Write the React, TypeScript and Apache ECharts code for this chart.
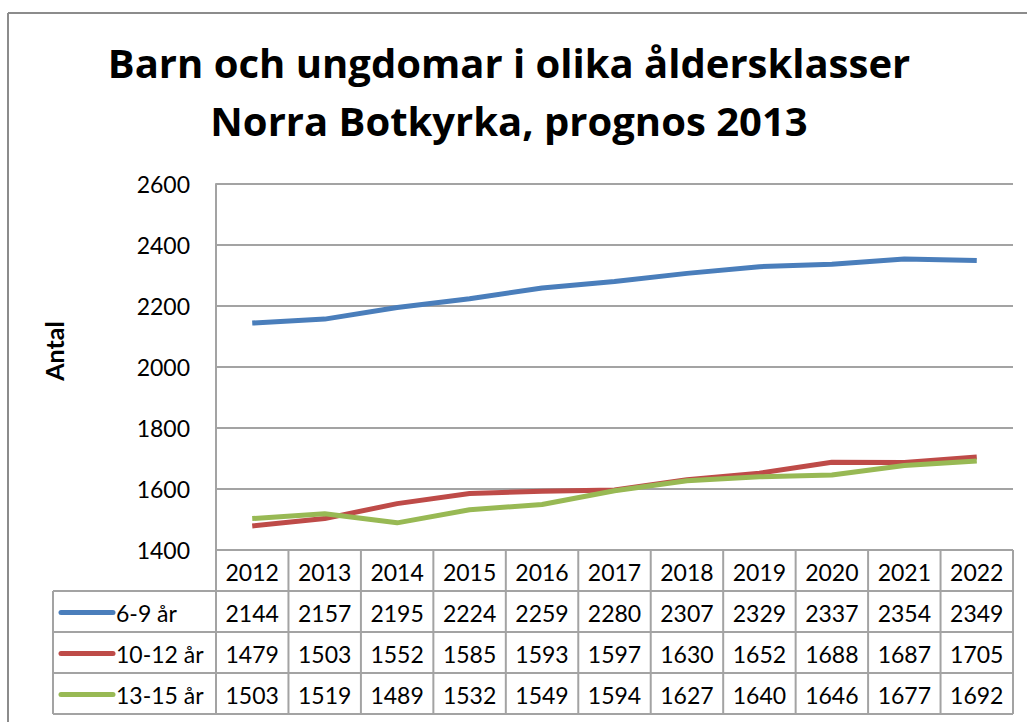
import React, { useEffect, useRef } from "react";
import * as echarts from "echarts";

const titleLines = ["Barn och ungdomar i olika åldersklasser", "Norra Botkyrka, prognos 2013"];
const yAxisTitle = "Antal";
const years = ["2012", "2013", "2014", "2015", "2016", "2017", "2018", "2019", "2020", "2021", "2022"];
const seriesNames = ["6-9 år", "10-12 år", "13-15 år"];
const age6to9 = [2144, 2157, 2195, 2224, 2259, 2280, 2307, 2329, 2337, 2354, 2349];
const age10to12 = [1479, 1503, 1552, 1585, 1593, 1597, 1630, 1652, 1688, 1687, 1705];
const age13to15 = [1503, 1519, 1489, 1532, 1549, 1594, 1627, 1640, 1646, 1677, 1692];
const yMin = 1400;
const yMax = 2600;
const yStep = 200;

const seriesValues = [age6to9, age10to12, age13to15];
const colors = ["#4A7EBB", "#BE4B48", "#98B954"];

const W = 1027;
const H = 722;
const gridLeft = 216;
const gridRight = 1013;
const gridTop = 184;
const gridBottom = 550;
const rowH = 41;
const legendLeft = 53;
const tableColor = "#A3A3A3";
const font = "Lato";

export default function App() {
  const ref = useRef<HTMLDivElement>(null);
  useEffect(() => {
    if (!ref.current) return;
    const chart = echarts.init(ref.current, null, { renderer: "svg" });
    const colW = (gridRight - gridLeft) / years.length;
    const graphics: any[] = [];
    // outer border
    graphics.push({ type: "line", shape: { x1: 8, y1: 13, x2: W, y2: 13 }, style: { stroke: "#8C8C8C", lineWidth: 2 } });
    graphics.push({ type: "line", shape: { x1: 8, y1: 13, x2: 8, y2: H }, style: { stroke: "#8C8C8C", lineWidth: 2 } });
    // title
    titleLines.forEach((t, i) => {
      graphics.push({
        type: "text",
        style: { text: t, x: 509, y: 62 + i * 58, align: "center", verticalAlign: "middle", fontSize: 40, fontWeight: "bold", fontFamily: "Open Sans", fill: "#000" },
      });
    });
    // axis title
    graphics.push({
      type: "text",
      x: 54,
      y: 351,
      rotation: Math.PI / 2,
      style: { text: yAxisTitle, x: 0, y: 0, align: "center", verticalAlign: "middle", fontSize: 25, fontWeight: "bold", fontFamily: font, fill: "#000" },
    });
    // table lines
    const tableBottom = gridBottom + rowH * (seriesNames.length + 1);
    graphics.push({ type: "line", shape: { x1: gridLeft, y1: gridBottom, x2: gridRight, y2: gridBottom }, style: { stroke: tableColor, lineWidth: 2 } });
    for (let r = 1; r <= seriesNames.length + 1; r++) {
      const y = gridBottom + r * rowH;
      graphics.push({ type: "line", shape: { x1: legendLeft, y1: y, x2: gridRight, y2: y }, style: { stroke: tableColor, lineWidth: 2 } });
    }
    for (let c = 0; c <= years.length; c++) {
      const x = gridLeft + c * colW;
      graphics.push({ type: "line", shape: { x1: x, y1: gridBottom, x2: x, y2: tableBottom }, style: { stroke: tableColor, lineWidth: 2 } });
    }
    graphics.push({ type: "line", shape: { x1: legendLeft, y1: gridBottom + rowH, x2: legendLeft, y2: tableBottom }, style: { stroke: tableColor, lineWidth: 2 } });
    // header
    years.forEach((yr, i) => {
      graphics.push({
        type: "text",
        style: { text: yr, x: gridLeft + (i + 0.5) * colW, y: gridBottom + rowH / 2 + 1, align: "center", verticalAlign: "middle", fontSize: 23, fontFamily: font, fill: "#000" },
      });
    });
    // rows
    seriesNames.forEach((name, r) => {
      const cy = gridBottom + (r + 1.5) * rowH + 1;
      graphics.push({ type: "line", shape: { x1: 61, y1: cy, x2: 113, y2: cy }, style: { stroke: colors[r], lineWidth: 5, lineCap: "round" } });
      graphics.push({ type: "text", style: { text: name, x: 116, y: cy, align: "left", verticalAlign: "middle", fontSize: 23, fontFamily: font, fill: "#000" } });
      seriesValues[r].forEach((v, i) => {
        graphics.push({
          type: "text",
          style: { text: String(v), x: gridLeft + (i + 0.5) * colW, y: cy, align: "center", verticalAlign: "middle", fontSize: 23, fontFamily: font, fill: "#000" },
        });
      });
    });

    chart.setOption({
      animation: false,
      backgroundColor: "#fff",
      grid: { left: gridLeft, right: W - gridRight, top: gridTop, bottom: H - gridBottom, containLabel: false },
      xAxis: {
        type: "category",
        data: years,
        boundaryGap: true,
        axisLine: { show: false },
        axisTick: { show: false },
        axisLabel: { show: false },
        splitLine: { show: false },
      },
      yAxis: {
        type: "value",
        min: yMin,
        max: yMax,
        interval: yStep,
        axisLine: { show: true, lineStyle: { color: tableColor, width: 2 } },
        axisTick: { show: false },
        axisLabel: { color: "#000", fontSize: 23, fontFamily: font, margin: 26, formatter: (v: number) => String(v) },
        splitLine: { show: true, lineStyle: { color: tableColor, width: 2 } },
      },
      series: seriesNames.map((name, i) => ({
        name,
        type: "line",
        data: seriesValues[i],
        symbol: "none",
        smooth: false,
        lineStyle: { color: colors[i], width: 5 },
        itemStyle: { color: colors[i] },
      })),
      graphic: graphics,
    });
    return () => chart.dispose();
  }, []);
  return <div ref={ref} style={{ position: "absolute", left: 0, top: 0, width: W, height: H }} />;
}
